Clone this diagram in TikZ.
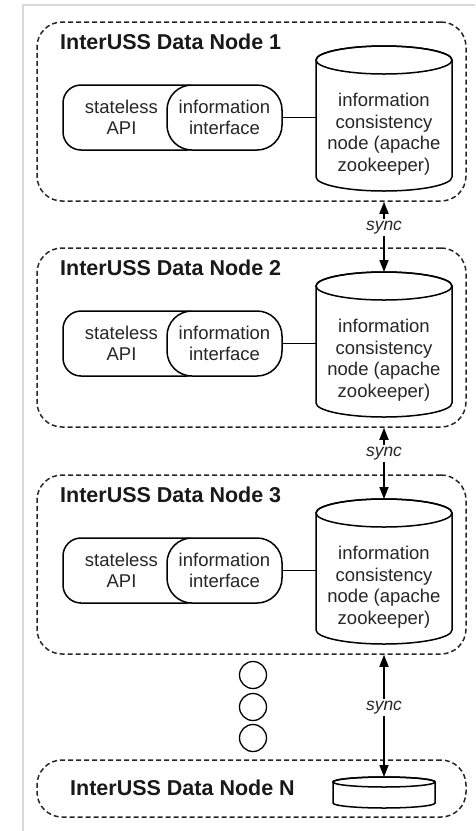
\documentclass[tikz,border=0pt]{standalone}
\usepackage{fontspec}
\setmainfont{Liberation Sans}
\usetikzlibrary{arrows.meta}
\begin{document}
\begin{tikzpicture}[x=1pt,y=1pt,
  frame/.style={draw=black!85, dash pattern=on 5pt off 3pt, line width=1.5pt, rounded corners=25pt, inner sep=0pt},
  title/.style={anchor=west, font=\fontsize{21.5}{24}\selectfont\bfseries, text=black!90, inner sep=0pt},
  txt/.style={align=center, font=\fontsize{18.5}{21.5}\selectfont, text=black!85, inner sep=0pt},
  shp/.style={draw=black, fill=white, line width=1.5pt},
  conn/.style={draw=black, line width=1.5pt},
  syncarrow/.style={{Triangle[width=9pt,length=12pt]}-{Triangle[width=9pt,length=12pt]}, line width=1.5pt},
  synclab/.style={fill=white, font=\fontsize{17.5}{20}\selectfont\itshape, text=black!85, inner sep=2pt},
  dotc/.style={draw=black, circle, minimum size=27pt, inner sep=0pt, line width=1.3pt}]
\useasboundingbox (0,0) rectangle (475,-831);
\draw[black!15, line width=1.2pt] (23,-831) -- (23,-5) -- (475,-5);
\foreach \i/\t in {1/22, 2/248, 3/475} {
  \node[frame, minimum width=429pt, minimum height=179pt] (box\i) at (251.5,{-(\t+89.5)}) {};
  \node[title] (title\i) at (60,{-(\t+20)}) {InterUSS Data Node \i};
  \draw[shp, rounded corners=18pt] (63,{-(\t+63)}) rectangle (205,{-(\t+128)});
  \node[shp, txt, rounded corners=25pt, minimum width=115pt, minimum height=65pt] (iface\i) at (224.5,{-(\t+95.5)}) {information\\interface};
  \node[txt] (api\i) at (121.5,{-(\t+95.5)}) {stateless\\API};
  \draw[shp] (316,{-(\t+38)}) -- (316,{-(\t+155)}) arc[start angle=180, end angle=360, x radius=68, y radius=14] -- (452,{-(\t+38)}) arc[start angle=0, end angle=180, x radius=68, y radius=14] -- cycle;
  \draw[conn] (384,{-(\t+38)}) ellipse [x radius=68, y radius=14];
  \coordinate (cyltop\i) at (384,{-(\t+24)});
  \node[txt, minimum width=136pt] (zk\i) at (384,{-(\t+112)}) {information\\consistency\\node (apache\\zookeeper)};
  \draw[conn] (iface\i.east) -- (iface\i.east -| zk\i.west);
}
% last node
\node[frame, minimum width=429pt, minimum height=57pt] (boxN) at (251.5,-788.5) {};
\node[title] (titleN) at (70,-788) {InterUSS Data Node N};
\draw[shp] (333,-782) -- (333,-803) arc[start angle=180, end angle=360, x radius=51, y radius=5] -- (435,-782) arc[start angle=0, end angle=180, x radius=51, y radius=5] -- cycle;
\draw[conn] (384,-782) ellipse [x radius=51, y radius=5];
\coordinate (cyltopN) at (384,-777);
% dots
\node[dotc] (dot1) at (253,-675) {};
\node[dotc] (dot2) at (253,-707) {};
\node[dotc] (dot3) at (253,-738) {};
% sync arrows
\draw[syncarrow] (box1.south -| zk1) -- (cyltop2) node[pos=0.37, synclab] (sync1) {sync};
\draw[syncarrow] (box2.south -| zk2) -- (cyltop3) node[pos=0.36, synclab] (sync2) {sync};
\draw[syncarrow] (box3.south -| zk3) -- (cyltopN) node[pos=0.43, synclab] (sync3) {sync};
\end{tikzpicture}
\end{document}
